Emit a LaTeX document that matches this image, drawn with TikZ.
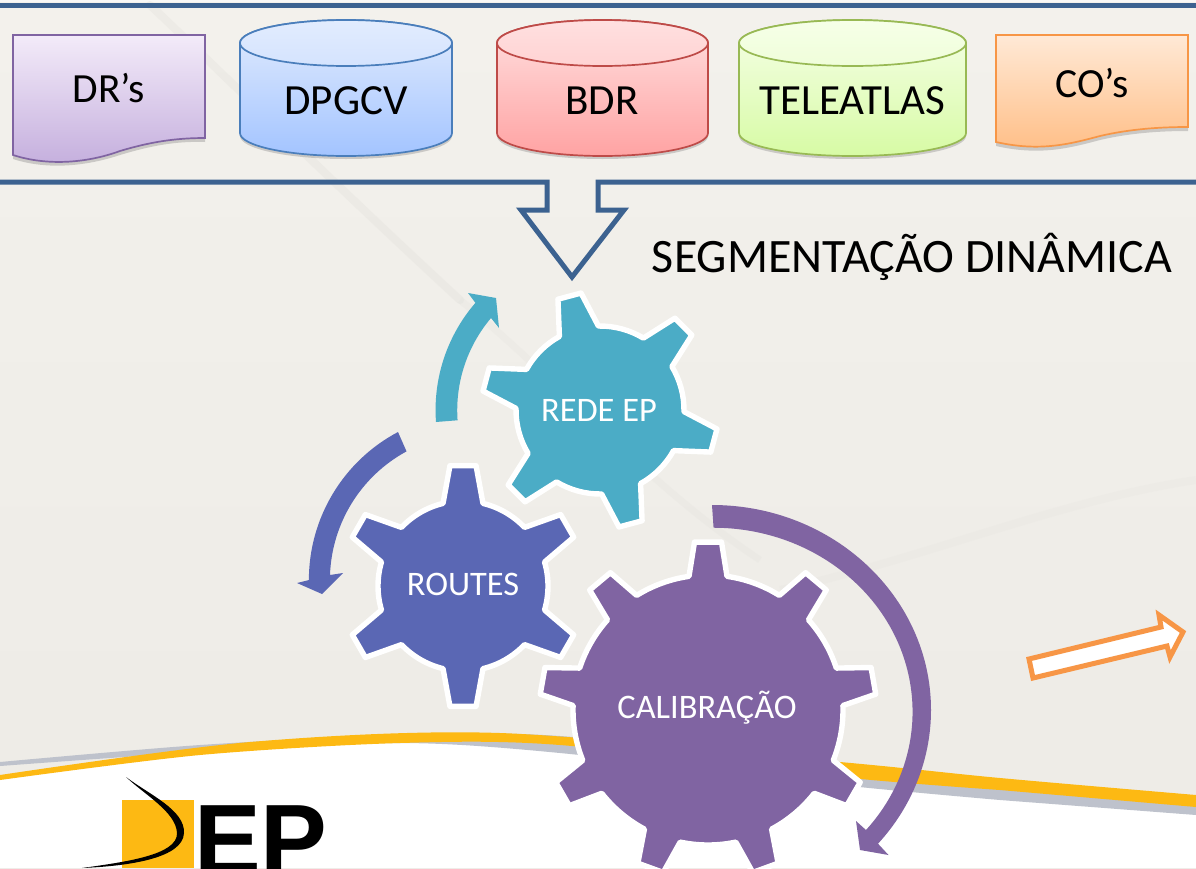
\documentclass[tikz,border=0pt]{standalone}
\usepackage{fontspec}
\setmainfont{Carlito}
\newfontfamily\logofont{Liberation Sans}
\definecolor{bgtop}{HTML}{F3F1EC}
\definecolor{bgbot}{HTML}{EDEBE6}
\definecolor{barblue}{HTML}{3C6290}
\definecolor{teal}{HTML}{4BACC6}
\definecolor{routesblue}{HTML}{5A67B4}
\definecolor{calpurple}{HTML}{8064A2}
\definecolor{swooshgold}{HTML}{FDB913}
\definecolor{swooshgray}{HTML}{BEC2CC}
\definecolor{arroworange}{HTML}{F79646}
\definecolor{purT}{HTML}{F3EBF9}
\definecolor{purB}{HTML}{C4AEDD}
\definecolor{oraT}{HTML}{FFE9D6}
\definecolor{oraB}{HTML}{FFBE86}
\definecolor{cylblue}{HTML}{4A7EBB}
\definecolor{BluT}{HTML}{E2ECFE}
\definecolor{BluB}{HTML}{A3C4FF}
\definecolor{cylred}{HTML}{BE4B48}
\definecolor{RedT}{HTML}{FFE0E0}
\definecolor{RedB}{HTML}{FFA3A3}
\definecolor{cylgreen}{HTML}{98B954}
\definecolor{GreT}{HTML}{F6FFE8}
\definecolor{GreB}{HTML}{D7FBA5}
% colour, cx, cy, n, a0, rb, rt, db, dt
\newcommand{\gearfill}[9]{%
  \pgfmathsetmacro{\gstep}{360/#4}%
  \draw[gearline,fill=#1,shift={(#2,-#3)}] ({#5+#8}:#6)
    \foreach \k [evaluate=\k as \ga using {#5-(\k-1)*\gstep}] in {1,...,#4}{
      -- ({\ga+#9}:#7) -- ({\ga-#9}:#7) -- ({\ga-#8}:#6)
      arc[start angle={\ga-#8},end angle={\ga-\gstep+#8},radius=#6]
    } -- cycle;
}
\newcommand{\cylinder}[5]{% x1,x2,stroke,top,bottom
  \pgfmathsetmacro{\crx}{(#2-#1)/2}
  \pgfmathsetmacro{\ccx}{(#2+#1)/2}
  \fill[gray,opacity=.35] (#1,-47) -- (#1,-136) arc[start angle=180,end angle=360,x radius=\crx,y radius=23] -- (#2,-47) -- cycle;
  \draw[cylline,draw=#3,top color=#4,bottom color=#5] (#1,-43) -- (#1,-133) arc[start angle=180,end angle=360,x radius=\crx,y radius=23] -- (#2,-43) arc[start angle=0,end angle=180,x radius=\crx,y radius=23] -- cycle;
  \draw[cylline,draw=#3,top color=#4,bottom color=#4!78!#5] (\ccx,-43) ellipse[x radius=\crx,y radius=23];
}
\tikzset{
  gearline/.style={draw=white,line width=5.4pt,line join=round},
  cylline/.style={line width=1.7pt},
  docline/.style={line width=1.7pt,line join=miter},
  barline/.style={draw=barblue,line width=5pt,line join=miter},
  boxtext/.style={font=\fontsize{43}{43}\selectfont,text=black,inner sep=0pt},
  geartext/.style={font=\fontsize{34.4}{34.4}\selectfont,text=white,inner sep=0pt}
}
\begin{document}
\begin{tikzpicture}[x=1pt,y=1pt]
\useasboundingbox (0,-868) rectangle (1196,0);
\clip (0,-868) rectangle (1196,0);
% background
\shade[top color=bgtop,bottom color=bgbot] (0,-868) rectangle (1196,0);
\fill[white,opacity=.55] (0,0) rectangle (1196,-2);
\draw[line width=8pt,color=black!7!bgtop,line cap=round,opacity=.35] (150,-5) .. controls (240,-90) and (330,-180) .. (460,-300);
\draw[line width=7pt,color=black!6!bgtop,opacity=.3] (460,-300) .. controls (560,-380) and (640,-480) .. (760,-560);
\draw[line width=8pt,color=black!5!bgtop,opacity=.3] (780,-590) .. controls (920,-560) and (1060,-500) .. (1196,-480);
% swoosh
\fill[white] plot[smooth] coordinates {(0,-778) (200,-750) (400,-738) (560,-745) (840,-775) (1000,-790) (1196,-805)} -- (1196,-868) -- (0,-868) -- cycle;
\fill[swooshgray] plot[smooth] coordinates {(0,-762) (200,-745) (400,-735) (560,-736) (840,-765)  (1196,-800)} -- (1196,-815) -- plot[smooth] coordinates {(1000,-800) (840,-785) (560,-753) (400,-743) (200,-752) (0,-766)} -- cycle;
\fill[swooshgold] plot[smooth] coordinates {(0,-775) (250,-742) (500,-733) (840,-762) (1000,-778) (1196,-795)} -- (1196,-807) -- plot[smooth] coordinates {(1000,-790) (840,-777) (560,-745) (400,-743) (200,-755) (0,-780)} -- cycle;
% logo
\fill[swooshgold] (122,-800) rectangle (194,-868);
\node[anchor=base west,inner sep=0pt,font=\logofont\bfseries\fontsize{100}{100}\selectfont,text=black] (logoep) at (194,-874) {EP};
\fill[black] (126,-777) .. controls (150,-795) and (185,-810) .. (184,-833) .. controls (183,-858) and (130,-866) .. (82,-868) .. controls (125,-862) and (178,-855) .. (177,-833) .. controls (176,-812) and (145,-795) .. (126,-777) -- cycle;
% bars
\draw[barline] (0,-5) -- (1196,-5);
\draw[barline] (0,-182) -- (547,-182) -- (547,-210) -- (521,-210) -- (572,-277) -- (624,-210) -- (598,-210) -- (598,-182) -- (1196,-182);
% documents
\fill[gray,opacity=.35] (13,-40) -- (13,-159) .. controls (50,-171) and (90,-165) .. (120,-155) .. controls (150,-146) and (175,-141) .. (205,-142) -- (205,-40) -- cycle;
\draw[docline,draw=calpurple,top color=purT,bottom color=purB] (13,-35) -- (13,-155) .. controls (50,-167) and (90,-162) .. (120,-151) .. controls (150,-142) and (175,-138) .. (205,-138) -- (205,-35) -- cycle;
\fill[gray,opacity=.35] (996,-40) -- (996,-146) .. controls (1040,-156) and (1070,-148) .. (1100,-140) .. controls (1130,-133) and (1160,-131) .. (1188,-131) -- (1188,-40) -- cycle;
\draw[docline,draw=arroworange,top color=oraT,bottom color=oraB] (996,-35) -- (996,-142) .. controls (1040,-152) and (1070,-144) .. (1100,-136) .. controls (1130,-129) and (1160,-127) .. (1188,-127) -- (1188,-35) -- cycle;
% cylinders
\cylinder{240}{452}{cylblue}{BluT}{BluB}
\cylinder{497}{708}{cylred}{RedT}{RedB}
\cylinder{739}{966}{cylgreen}{GreT}{GreB}
\node[boxtext,font=\fontsize{41.5}{41.5}\selectfont] (drs) at (109,-88) {DR’s};
\node[boxtext] (dpgcv) at (346,-101) {DPGCV};
\node[boxtext] (bdr) at (602,-101) {BDR};
\node[boxtext] (teleatlas) at (852,-101) {TELEATLAS};
\node[boxtext,font=\fontsize{41.5}{41.5}\selectfont] (cos) at (1092,-83) {CO’s};
\node[boxtext,font=\fontsize{48}{48}\selectfont] (segdin) at (912,-257) {SEGMENTAÇÃO DINÂMICA};
% rotation arrows
\fill[teal] (436,-422) arc[start angle=184.2,end angle=139.2,radius=164] -- (468,-293) -- (496,-298) -- (499,-328) -- (491,-318) arc[start angle=139.8,end angle=184,radius=143] -- cycle;
\fill[routesblue] (398,-432) arc[start angle=117.9,end angle=180,radius=167.5] -- (297,-583) -- (322,-594) -- (343,-573) -- (330,-575) arc[start angle=178,end angle=118.5,radius=146.5] -- cycle;
\fill[calpurple] (712,-505) arc[start angle=90,end angle=-40.7,x radius=219,y radius=205] -- (888.5,-855) -- (860,-850) -- (856,-821) -- (866,-830) arc[start angle=-40,end angle=90,x radius=199,y radius=184] -- cycle;
% gears
\gearfill{routesblue}{463}{586}{6}{90}{85}{121}{13.6}{6.2}
\gearfill{teal}{600}{410}{6}{105}{84}{118.5}{13.9}{5.8}
\gearfill{calpurple}{708}{710}{9}{90}{135}{168.5}{8.1}{4.6}
\node[geartext] (rede) at (599,-410) {REDE EP};
\node[geartext] (routes) at (463,-584) {ROUTES};
\node[geartext] (calib) at (707,-708) {CALIBRAÇÃO};
% orange arrow
\draw[draw=arroworange,fill=white,line width=5pt,line join=miter] (1029,-659) -- (1161,-627) -- (1159,-615) -- (1183,-632) -- (1170,-657) -- (1167,-646) -- (1033,-678) -- cycle;
\end{tikzpicture}
\end{document}
